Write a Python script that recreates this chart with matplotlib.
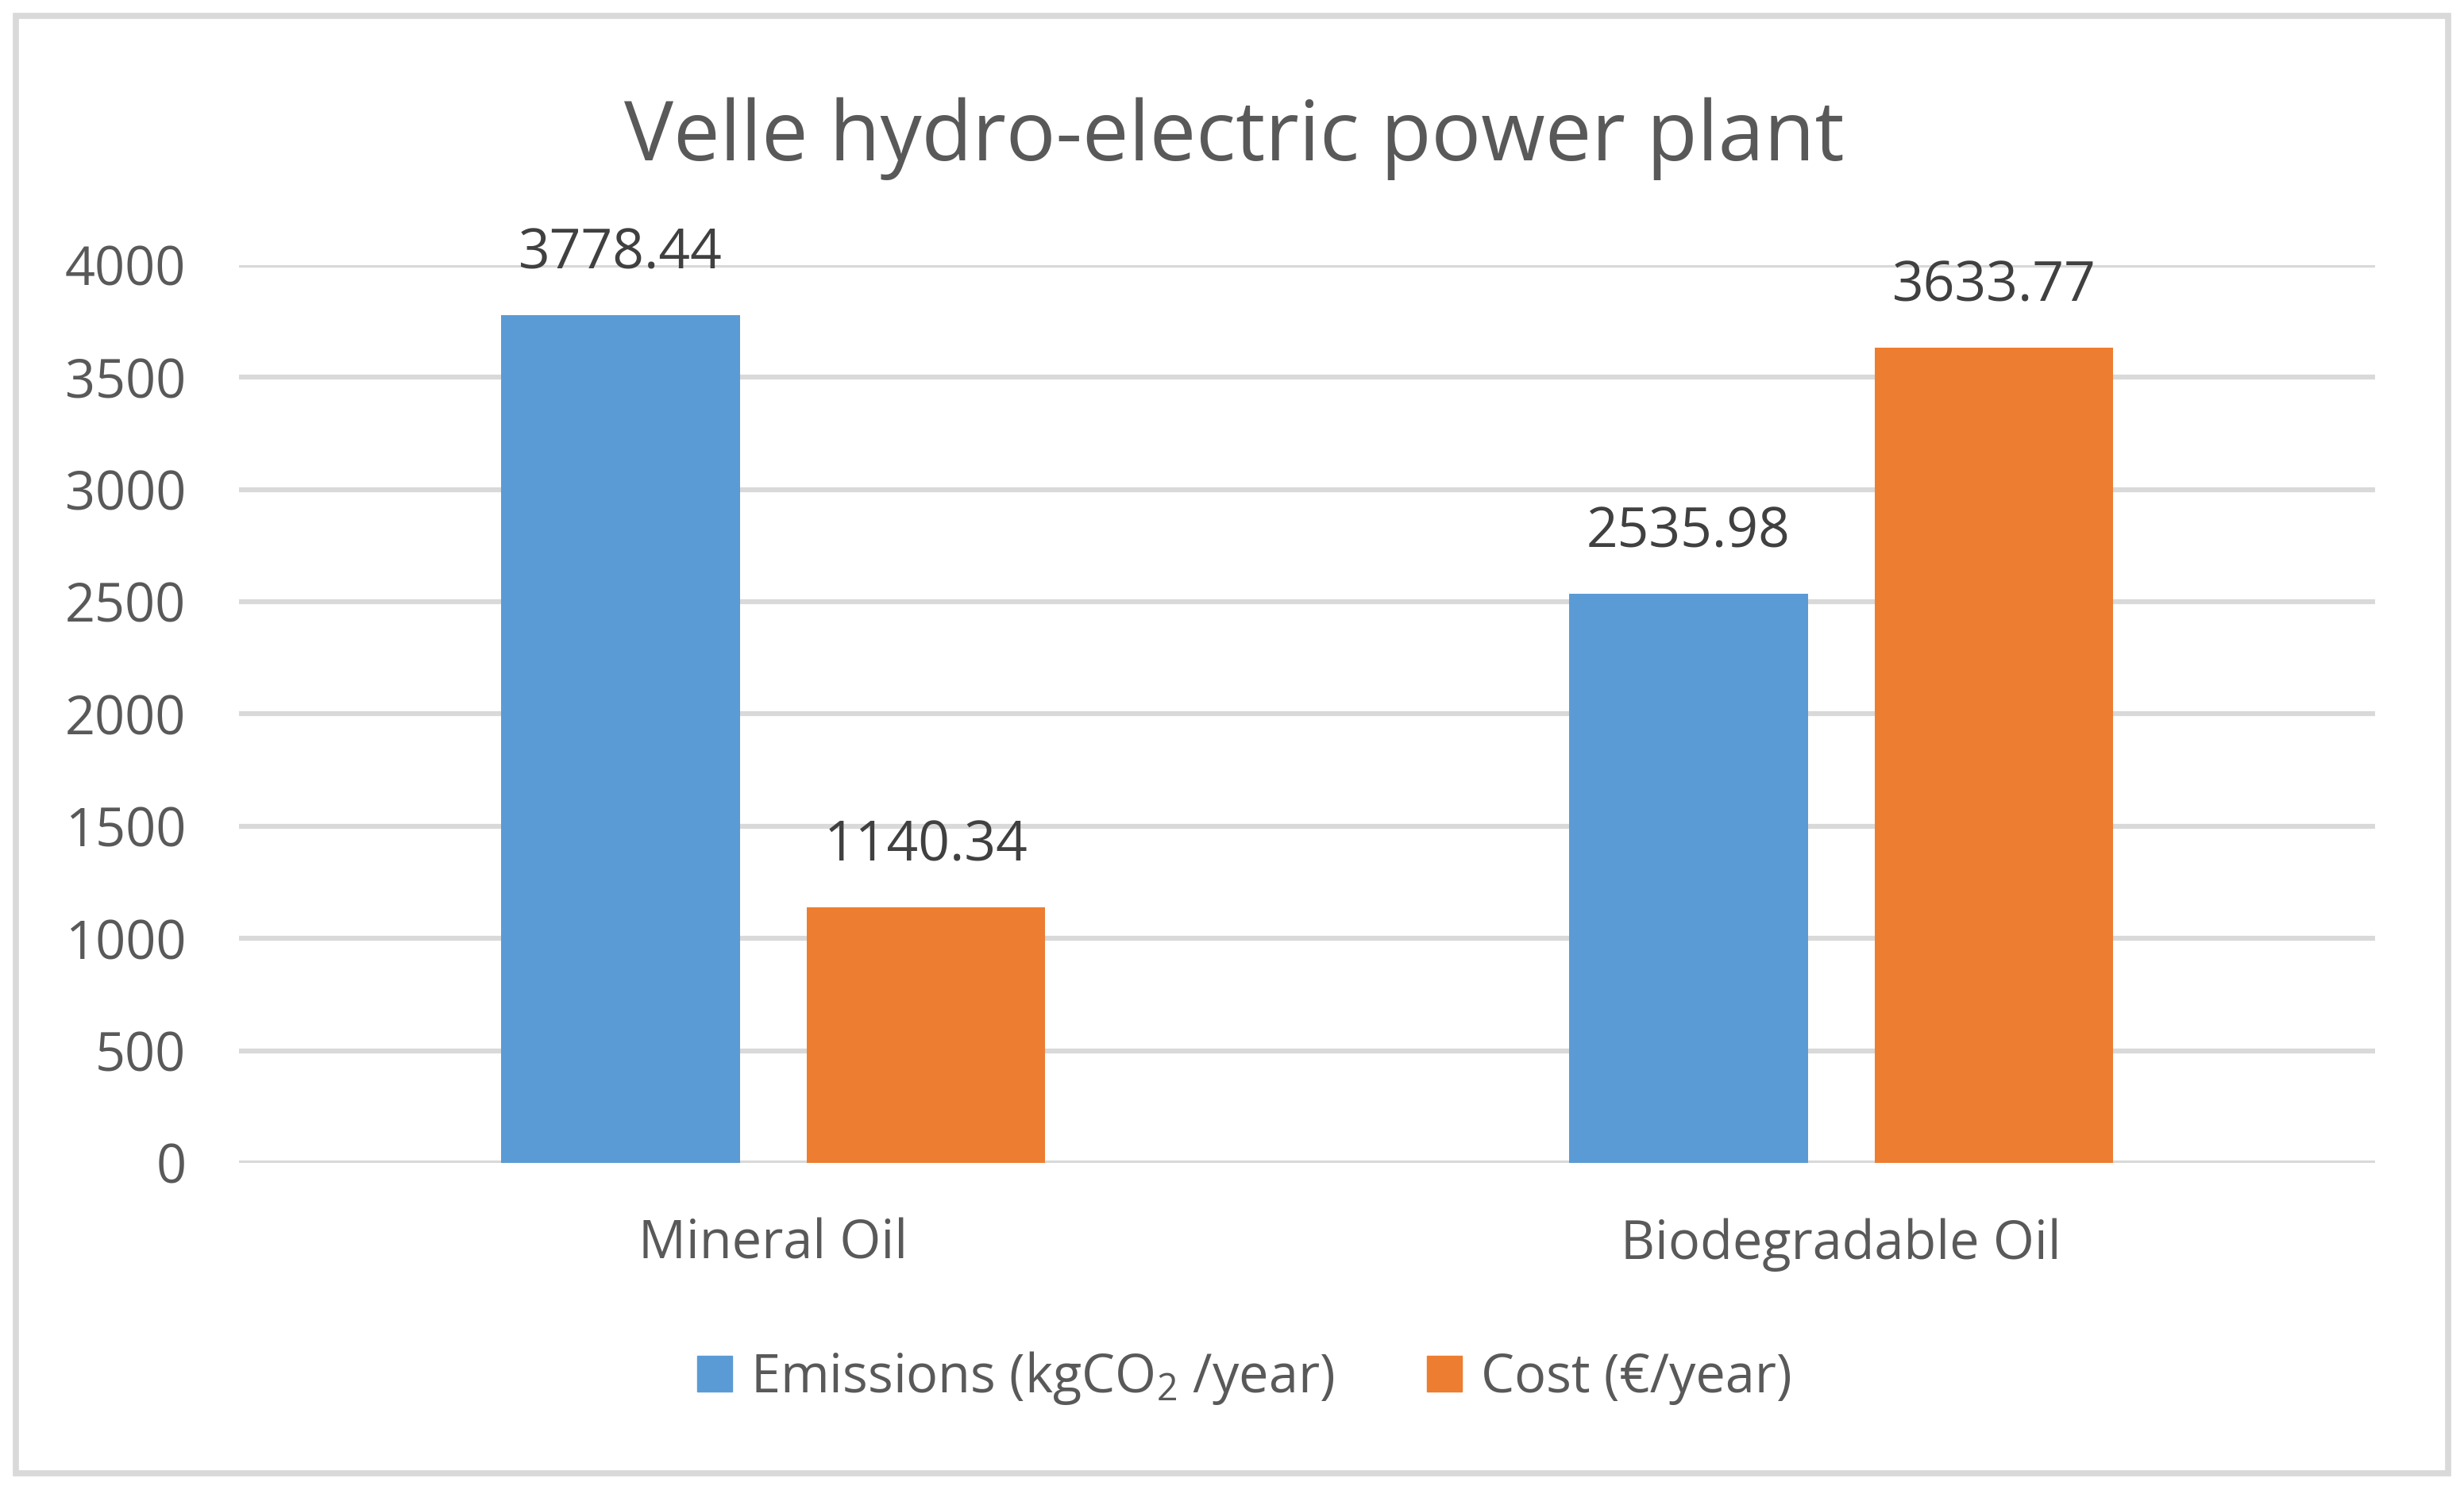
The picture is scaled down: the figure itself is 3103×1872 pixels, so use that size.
import numpy as np
import matplotlib
matplotlib.use("Agg")
import matplotlib.pyplot as plt
from matplotlib.patches import Rectangle, Patch

plt.rcParams['font.family'] = ['Open Sans', 'DejaVu Sans']

categories = ['Mineral Oil', 'Biodegradable Oil']
emissions = [3778.44, 2535.98]
cost = [1140.34, 3633.77]
series_names = ['Emissions (kgCO$\\mathregular{_2}$ /year)', 'Cost (€/year)']
yticks = [0, 500, 1000, 1500, 2000, 2500, 3000, 3500, 4000]

blue = '#5B9BD5'
orange = '#ED7D31'
grey_txt = '#595959'
grid_col = '#D9D9D9'

fig = plt.figure(figsize=(31.03, 18.72), dpi=100)
ax = fig.add_axes([0.097, 0.2174, 0.867, 0.6042])

x = np.arange(len(categories))
w = 0.2235
off = 0.143
b1 = ax.bar(x - off, emissions, w, color=blue, zorder=3)
b2 = ax.bar(x + off, cost, w, color=orange, zorder=3)

for bars, vals in [(b1, emissions), (b2, cost)]:
    for r, v in zip(bars, vals):
        ax.annotate(f'{v:.2f}', (r.get_x() + r.get_width() / 2, v),
                    xytext=(0, 42), textcoords='offset points',
                    ha='center', va='baseline', fontsize=50, color='#404040')

ax.set_xlim(-0.5, 1.5)
ax.set_ylim(0, 4000)
ax.set_yticks(yticks)
ax.set_xticks(x)
ax.set_xticklabels(categories)
ax.tick_params(axis='y', length=0, pad=48, labelsize=48, labelcolor=grey_txt)
ax.tick_params(axis='x', length=0, pad=50, labelsize=48, labelcolor=grey_txt)
ax.grid(axis='y', color=grid_col, linewidth=4.5, zorder=0)
for s in ax.spines.values():
    s.set_visible(False)

fig.text(0.501, 0.892, 'Velle hydro-electric power plant', ha='center', va='baseline',
         fontsize=75, color=grey_txt)

handles = [Patch(color=blue), Patch(color=orange)]
fig.legend(handles, series_names, loc='center', bbox_to_anchor=(0.505, 0.0726), ncol=2,
           frameon=False, fontsize=48, labelcolor=grey_txt, handlelength=0.66,
           handleheight=0.66, handletextpad=0.35, columnspacing=1.75)

# outer chart border
fig.patches.append(Rectangle((20 / 3103, 1 - 1856 / 1872), 3063 / 3103, 1836 / 1872,
                             transform=fig.transFigure, fill=False,
                             edgecolor=grid_col, linewidth=5.5))

fig.savefig('out.png', dpi=100, facecolor='white')
